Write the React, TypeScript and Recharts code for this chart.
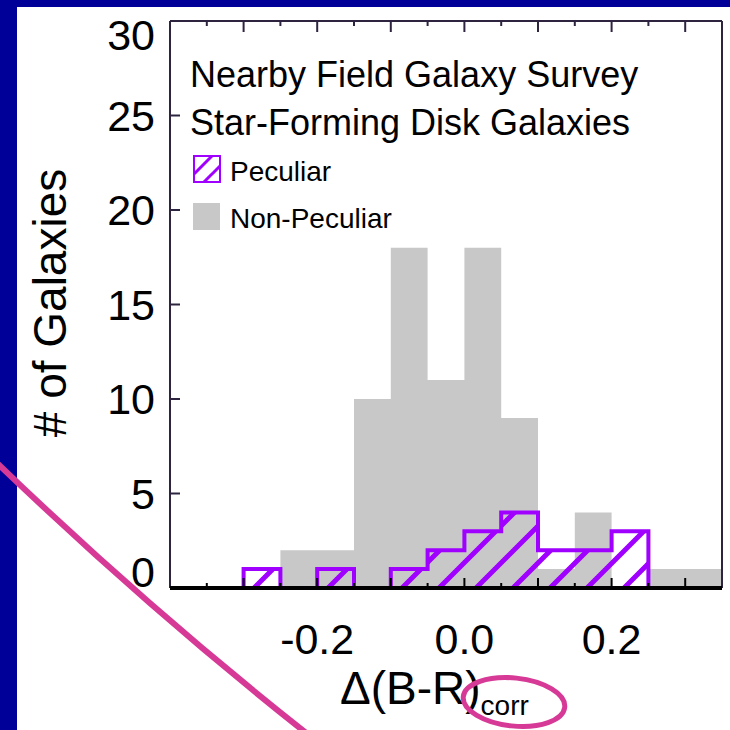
import React from 'react';
import { ComposedChart, Area, XAxis, YAxis } from 'recharts';

// histogram bin edges (15 bins, 0.05 wide)
const binEdges = [-0.4, -0.35, -0.3, -0.25, -0.2, -0.15, -0.1, -0.05, 0, 0.05, 0.1, 0.15, 0.2, 0.25, 0.3, 0.35];
const nonPeculiar = [0, 0, 0, 2, 2, 10, 18, 11, 18, 9, 1, 4, 0, 1, 1];
const peculiar = [0, 0, 1, 0, 1, 0, 1, 2, 3, 4, 2, 2, 3, 0, 0];

const xTicks = [-0.35, -0.3, -0.25, -0.2, -0.15, -0.1, -0.05, 0, 0.05, 0.1, 0.15, 0.2, 0.25, 0.3];
const yTicks = [0, 5, 10, 15, 20, 25, 30];

const titleLines = ['Nearby Field Galaxy Survey', 'Star-Forming Disk Galaxies'];
const legendNames = ['Peculiar', 'Non-Peculiar'];

const FONT = '"Liberation Sans", Arial, Helvetica, sans-serif';
const PURPLE = '#9f00ff';
const GRAY = '#c8c8c8';
const AXIS = '#2e2440';
const PINK = '#d63a96';

// step-histogram table: last edge repeats the last bin so the step closes
const table = binEdges.map((x, i) => ({
  x,
  nonPeculiar: nonPeculiar[Math.min(i, nonPeculiar.length - 1)],
  peculiar: peculiar[Math.min(i, peculiar.length - 1)],
}));

const isMult = (v: number, step: number) => Math.abs(v / step - Math.round(v / step)) < 1e-6;

const BottomTick = (props: any) => {
  const { x, y, payload } = props;
  const v = payload.value;
  const len = isMult(v, 0.1) ? 10 : 5;
  return (
    <g>
      <line x1={x} x2={x} y1={y} y2={y - len} stroke="#000" strokeWidth={2} />
      {isMult(v, 0.2) && (
        <text x={x} y={y + 66} textAnchor="middle" fontSize={43} fontFamily={FONT} fill="#000">
          {v.toFixed(1)}
        </text>
      )}
    </g>
  );
};

const TopTick = (props: any) => {
  const { x, y, payload } = props;
  const len = isMult(payload.value, 0.1) ? 11 : 5;
  return <line x1={x} x2={x} y1={y} y2={y + len} stroke={AXIS} strokeWidth={2} />;
};

const LeftTick = (props: any) => {
  const { x, y, payload } = props;
  const v = payload.value;
  // IDL pulls the end labels inside the axis range
  const dy = v === 30 ? 14 : v === 0 ? -16 : 0;
  return (
    <g>
      {v !== 0 && v !== 30 && <line x1={x} x2={x + 10} y1={y} y2={y} stroke={AXIS} strokeWidth={2} />}
      <text x={x - 15} y={y + dy + 15} textAnchor="end" fontSize={43} fontFamily={FONT} fill="#000">
        {v}
      </text>
    </g>
  );
};

const RightTick = (props: any) => {
  const { x, y, payload } = props;
  const v = payload.value;
  if (v === 0 || v === 30) return <g />;
  return <line x1={x} x2={x - 10} y1={y} y2={y} stroke={AXIS} strokeWidth={2} />;
};

export default function App() {
  return (
    <div style={{ position: 'absolute', left: 0, top: 0, width: 730, height: 730, background: '#fff', overflow: 'hidden' }}>
      <div style={{ position: 'absolute', left: 0, top: 0, width: 730, height: 7, background: '#000099' }} />
      <div style={{ position: 'absolute', left: 0, top: 0, width: 17, height: 730, background: '#000099' }} />

      <div style={{ position: 'absolute', left: 0, top: 0 }}>
        <ComposedChart width={730} height={730} data={table} margin={{ top: 20, right: 7, bottom: 141, left: 169 }}>
          <defs>
            <pattern id="hatch" patternUnits="userSpaceOnUse" x={28} y={0} width={37} height={37}>
              <path d="M-5,5 L5,-5 M0,37 L37,0 M32,42 L42,32" stroke={PURPLE} strokeWidth={5} />
            </pattern>
            <pattern id="hatchKey" patternUnits="userSpaceOnUse" x={194} y={156} width={18} height={18}>
              <path d="M-3,3 L3,-3 M0,18 L18,0 M15,21 L21,15" stroke={PURPLE} strokeWidth={3} />
            </pattern>
          </defs>
          <XAxis
            xAxisId="top"
            orientation="top"
            dataKey="x"
            type="number"
            domain={[-0.4, 0.35]}
            ticks={xTicks}
            interval={0}
            height={1}
            tickSize={0}
            tickMargin={0}
            tickLine={false}
            tick={<TopTick />}
            axisLine={{ stroke: AXIS, strokeWidth: 2 }}
          />
          <YAxis
            yAxisId="right"
            orientation="right"
            type="number"
            domain={[0, 30]}
            ticks={yTicks}
            interval={0}
            width={1}
            tickSize={0}
            tickMargin={0}
            tickLine={false}
            tick={<RightTick />}
            axisLine={{ stroke: AXIS, strokeWidth: 2 }}
          />
          <YAxis
            type="number"
            domain={[0, 30]}
            ticks={yTicks}
            interval={0}
            width={1}
            tickSize={0}
            tickMargin={0}
            tickLine={false}
            tick={<LeftTick />}
            axisLine={{ stroke: AXIS, strokeWidth: 2 }}
          />
          <Area
            type="stepAfter"
            dataKey="nonPeculiar"
            fill={GRAY}
            fillOpacity={1}
            stroke="none"
            dot={false}
            activeDot={false}
            isAnimationActive={false}
          />
          <Area
            type="stepAfter"
            dataKey="peculiar"
            fill="url(#hatch)"
            fillOpacity={1}
            stroke={PURPLE}
            strokeWidth={4}
            dot={false}
            activeDot={false}
            isAnimationActive={false}
          />
          <XAxis
            dataKey="x"
            type="number"
            domain={[-0.4, 0.35]}
            ticks={xTicks}
            interval={0}
            height={1}
            tickSize={0}
            tickMargin={0}
            tickLine={false}
            tick={<BottomTick />}
            axisLine={{ stroke: '#000', strokeWidth: 4 }}
          />
        </ComposedChart>
      </div>

      <svg
        width={730}
        height={730}
        style={{ position: 'absolute', left: 0, top: 0, pointerEvents: 'none' }}
        fontFamily={FONT}
      >
        <text x={190} y={87} fontSize={36} fill="#000">{titleLines[0]}</text>
        <text x={190} y={135} fontSize={36} fill="#000">{titleLines[1]}</text>

        <rect x={194} y={156} width={26} height={26} fill="url(#hatchKey)" stroke={PURPLE} strokeWidth={2} />
        <text x={230} y={181} fontSize={28} fill="#000">{legendNames[0]}</text>
        <rect x={193} y={203} width={27} height={27} fill={GRAY} />
        <text x={230} y={228} fontSize={28} fill="#000">{legendNames[1]}</text>

        <text x={0} y={0} transform="translate(66,303) rotate(-90)" textAnchor="middle" fontSize={46} fill="#000">
          # of Galaxies
        </text>
        <text x={340} y={704} fontSize={46} fill="#000">
          Δ(B-R)<tspan fontSize={28} dy={11}>corr</tspan>
        </text>

        <path d="M -4 462 Q 150 610 310 736" fill="none" stroke={PINK} strokeWidth={6} />
        <ellipse cx={514} cy={702} rx={51} ry={24} transform="rotate(6 514 702)" fill="none" stroke={PINK} strokeWidth={5} />
      </svg>
    </div>
  );
}
